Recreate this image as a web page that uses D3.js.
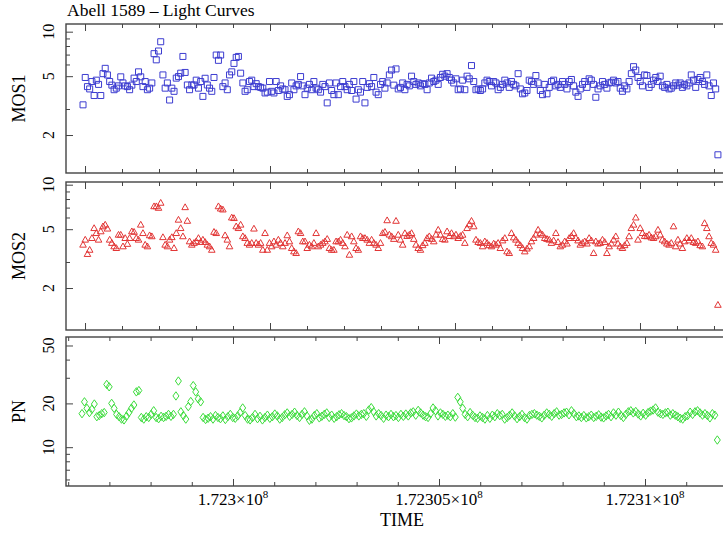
<!DOCTYPE html>
<html>
<head>
<meta charset="utf-8">
<script src="https://cdn.jsdelivr.net/npm/d3@7/dist/d3.min.js"></script>
<style>
  html, body { margin: 0; padding: 0; background: #fff; }
  svg { display: block; font-family: "Liberation Serif", "DejaVu Serif", serif; }
</style>
</head>
<body>
<div id="chart"></div>
<script>
// light curve values, one per 60 s bin
const mos1Counts = [
  3.2, 4.9, 4.25, 4.1, 4.6, 3.7, 4.7, 4.4, 3.7, 5.2,
  5.65, 5.1, 4.6, 4.35, 4.05, 4.15, 4.3, 4.95, 4.5, 4.3,
  4.25, 4.05, 4.35, 4.85, 4.6, 5.35, 4.95, 4.25, 4.6, 4.05,
  4.15, 4.5, 7.1, 6.45, 7.4, 8.55, 5.1, 4.15, 4.5, 3.45,
  4.15, 3.95, 4.85, 4.97, 5.24, 6.8, 5.3, 4.36, 4.05, 4.36,
  4.36, 4.7, 4.15, 4.6, 3.65, 4.84, 4.36, 4.15, 3.95, 4.9,
  6.95, 6.4, 6.95, 4.25, 4.5, 4.05, 5.1, 5.35, 6.1, 6.7,
  6.8, 5.24, 4.5, 3.95, 4.05, 4.6, 4.7, 4.25, 4.45, 4.25,
  4.2, 4.15, 3.85, 3.9, 4.6, 3.95, 3.85, 4.6, 4.0, 4.3,
  4.1, 4.05, 3.65, 3.75, 4.5, 4.05, 4.3, 4.4, 4.97, 4.3,
  3.75, 4.15, 4.4, 4.05, 4.6, 4.15, 4.05, 3.9, 4.4, 4.25,
  3.3, 4.5, 4.0, 3.75, 4.5, 3.75, 4.25, 4.6, 4.25, 4.05,
  4.4, 4.0, 4.6, 3.5, 4.05, 3.9, 4.6, 3.3, 4.2, 4.45,
  4.25, 4.9, 3.9, 3.75, 4.4, 4.6, 4.15, 4.5, 5.1, 5.5,
  4.35,
  5.6, 4.1, 4.2, 4.5, 4.05, 4.4, 4.3, 5.0, 4.6, 4.4,
  4.5, 4.3, 4.45, 4.4, 4.05, 4.5, 4.85, 4.6, 4.7, 4.4,
  4.9, 5.15, 5.0, 5.2, 4.9, 4.7, 4.5, 4.8, 4.05, 4.1,
  4.7, 4.05, 5.0, 4.8, 5.9, 4.6, 4.05, 4.1, 4.0, 4.1,
  4.5, 4.7, 4.6, 4.3, 4.6, 4.5, 4.05, 4.2, 4.4, 4.7,
  4.5, 4.2, 4.6, 4.4, 4.3, 5.2, 4.1, 3.8, 3.85, 4.0,
  4.7, 4.6, 4.4, 5.05, 4.5, 4.0, 3.75, 4.4, 3.8, 4.2,
  4.6, 4.7, 4.3, 4.4, 4.2, 4.6, 4.4, 4.1, 4.6, 4.75,
  4.3, 3.9, 3.65, 4.1, 4.4, 4.6, 4.2, 4.8, 4.7, 4.4,
  3.6, 4.1, 4.3, 4.6, 4.4, 4.15, 4.5, 4.55, 4.7, 4.5,
  4.6, 4.15, 3.95, 4.3, 4.1, 4.6, 5.2, 5.8, 5.5, 4.9,
  4.6, 4.3, 5.1, 5.05, 4.2, 4.4, 4.7, 4.9, 4.6, 5.0,
  4.3, 4.2, 4.4, 4.1, 4.15, 4.3, 4.5, 4.35, 4.5, 4.2,
  4.4, 4.3, 4.5, 5.1, 4.7, 4.2, 4.75, 4.9, 4.6, 4.4,
  5.1, 4.3, 3.7, 4.5, 4.1, 1.47
];

const mos2Counts = [
  3.93, 4.25, 3.4, 3.63, 4.36, 5.09, 4.71, 4.25, 4.84,
  5.23, 5.37, 5.05, 4.25, 4.04, 3.83, 3.73, 4.59, 4.59, 3.83,
  4.36, 3.98, 4.36, 4.84, 4.8, 4.36, 4.25, 5.37, 4.71, 3.93,
  3.83, 4.55, 4.48, 7.15, 7.15, 6.98, 7.55, 4.42, 3.93, 3.83,
  4.25, 4.42, 3.73, 4.71, 5.8, 5.09, 4.48, 7.05, 5.7,
  4.14, 3.93, 4.04, 4.14, 4.36, 4.1, 4.25, 4.1, 3.93, 3.83,
  3.63, 4.8, 4.71, 7.15, 6.9, 6.8, 4.55, 4.25, 3.83, 6.0,
  5.95, 5.23, 5.09, 5.37, 4.48, 4.36, 4.04, 3.93, 4.04, 5.05,
  4.04, 3.93, 4.04, 3.63, 4.71, 3.63, 4.04, 3.83, 4.14, 3.93,
  4.25, 4.04, 3.83, 4.04, 4.55, 4.14, 3.73, 3.54, 3.45, 4.84,
  4.71, 4.14, 4.14, 3.73, 3.93, 3.83, 4.04, 4.71, 3.83, 3.93,
  4.04, 4.14, 4.3, 3.73, 3.63, 3.63, 4.14, 4.14, 4.25, 4.04,
  3.83, 4.59, 3.36, 4.48, 4.14, 3.73, 3.63, 4.48, 4.36, 4.36,
  4.25, 4.04, 4.25, 4.04, 3.93, 3.73, 4.04, 4.71, 4.8, 5.75,
  4.6, 4.48, 4.3,
  5.7, 4.59, 4.25, 3.93, 4.7, 4.5, 4.59, 4.71, 4.3, 3.93,
  3.73, 3.63, 3.9, 4.04, 4.36, 4.48, 4.3, 4.14, 4.6, 4.96,
  4.59, 4.3, 4.25, 4.84, 4.5, 4.71, 4.48, 4.6, 4.36, 4.5,
  4.59, 4.04, 5.09, 5.4, 5.7, 5.23, 4.25, 4.1, 4.04, 3.83,
  4.14, 4.04, 3.9, 3.83, 4.0, 3.93, 4.04, 3.73, 4.2, 4.36,
  3.54, 3.45, 4.71, 4.4, 4.25, 4.04, 3.9, 3.73, 3.54, 3.7,
  3.83, 4.14, 4.36, 4.6, 4.96, 4.7, 4.59, 4.36, 4.3, 4.25,
  4.04, 4.2, 4.71, 4.1, 3.83, 3.93, 4.14, 4.0, 4.36, 4.5,
  4.71, 4.36, 4.2, 3.93, 4.04, 4.14, 4.0, 4.36, 4.2, 3.45,
  4.14, 4.0, 4.04, 4.25, 4.1, 3.45, 3.83, 4.0, 4.25, 4.48,
  4.0, 3.83, 3.73, 3.9, 4.04, 4.48, 5.09, 5.37, 6.0, 4.25,
  5.09, 4.71, 4.5, 4.48, 4.59, 4.4, 4.36, 4.48, 4.96, 4.6,
  4.25, 4.14, 4.0, 3.93, 4.04, 5.23, 3.83, 4.25, 4.0, 3.73,
  4.14, 4.36, 4.2, 4.36, 4.1, 4.04, 4.14, 3.9, 3.83, 5.5,
  5.09, 4.48, 4.04, 3.93, 3.63, 1.54
];

const pnCounts = [
  17.0, 20.5, 18.5, 17.3, 18.2, 19.8, 16.2, 16.5, 17.0, 17.3,
  27.0, 26.0, 20.0, 18.5, 16.8, 16.2, 15.6, 15.4, 16.3, 17.3,
  18.5, 19.5, 24.0, 24.5, 16.0, 15.6, 16.2, 16.0, 16.8, 17.8,
  16.0, 15.7, 16.3, 16.0, 16.3, 16.8, 16.3, 16.8, 22.5, 28.5,
  17.5, 16.5, 15.6, 19.0, 20.6, 26.5, 24.0, 21.5, 20.5, 16.0,
  15.5, 15.8, 16.2, 15.6, 16.5, 16.0, 15.7, 16.4, 15.5, 16.2,
  16.8, 16.0, 15.8, 16.4, 17.3, 18.6, 16.5, 15.6, 15.4, 16.0,
  16.8, 15.7, 16.3, 15.4, 16.0, 16.6, 15.8, 16.2, 16.9, 16.4,
  15.6, 16.0, 16.7, 17.2, 16.3, 16.8, 17.4, 16.5, 16.0, 16.8,
  17.5, 16.4, 15.3, 15.6, 16.5, 17.0, 15.9, 16.3, 16.8, 17.2,
  16.0, 16.6, 15.8, 16.2, 16.7, 17.0, 16.5, 16.2, 15.7, 15.9,
  16.4, 16.9, 16.4, 16.8, 17.0, 16.3, 18.0, 18.7, 17.5, 16.4,
  17.0, 16.5, 15.8, 16.6, 16.2, 16.8, 16.2,
  16.5, 16.0, 16.8, 16.3, 16.9, 16.4, 17.2, 17.5,
  16.6, 17.9, 17.2, 16.6, 16.2, 16.0, 17.0, 18.6, 17.8, 16.4,
  17.2, 16.8, 16.3, 16.6, 16.2, 17.0, 16.1, 22.0, 20.5, 18.5,
  16.8, 16.2, 17.3, 16.6, 16.0, 15.8, 16.4, 16.0, 15.6, 16.5,
  15.8, 16.6, 16.2, 17.0, 16.5, 16.8, 15.6, 16.0, 16.6, 17.2,
  16.4, 15.7, 16.2, 16.8, 16.0, 15.6, 16.5, 16.8, 17.0, 16.6,
  16.3, 15.9, 16.6, 17.2, 16.8, 16.3, 17.0, 17.5, 16.6, 16.8,
  17.2, 17.4, 16.7, 17.8, 17.0, 16.2, 16.4, 16.0, 16.5, 15.9,
  16.2, 16.6, 16.0, 16.3, 16.7, 16.1, 15.9, 16.4, 16.8, 16.2,
  17.2, 16.6, 17.4, 16.5, 16.0, 16.8, 17.5, 17.8, 17.2, 17.6,
  16.9, 16.4, 17.1, 16.6, 17.3, 17.7, 18.0, 18.6,
  17.4, 17.0, 16.8, 17.2, 17.4, 16.6, 17.0, 16.6, 16.2, 15.8,
  15.6, 16.2, 16.5, 17.4, 16.8, 17.5, 17.8, 17.2, 16.6, 17.0,
  16.5, 15.9, 17.0, 16.6, 11.2
];

// time grid of the binned light curves (s)
const binSize = 60;
const mosStartTime = 172294946;
const pnStartTime = 172296335;

// tick values and labels
const timeMajorTicks = [172295000, 172300000, 172305000, 172310000];
const timeTickLabels = [
  {t: 172300000, mant: "1.723"},
  {t: 172305000, mant: "1.72305"},
  {t: 172310000, mant: "1.7231"}
];
const mosMajorTicks = [2, 5, 10];
const mosMinorTicks = [3, 6, 7, 8, 9];
const pnMajorTicks = [10, 20, 50];
const pnMinorTicks = [6, 7, 8, 9, 30, 40];

(function() {
    const W = 723, H = 533;
    const left = 66, right = 735;
    const frameColor = "#444";

    const svg = d3.select("#chart").append("svg")
        .attr("width", W)
        .attr("height", H);

    const panels = [
        {label: "MOS1", values: mos1Counts, start: mosStartTime,
         xDomain: [172294486, 172312568], yDomain: [1.107, 11.27],
         top: 24, bottom: 173, major: mosMajorTicks, minor: mosMinorTicks,
         color: "#3c3cd0", shape: "square"},
        {label: "MOS2", values: mos2Counts, start: mosStartTime,
         xDomain: [172294486, 172312568], yDomain: [1.04, 10.43],
         top: 182, bottom: 330, major: mosMajorTicks, minor: mosMinorTicks,
         color: "#e23636", shape: "triangle"},
        {label: "PN", values: pnCounts, start: pnStartTime,
         xDomain: [172295947, 172312184], yDomain: [5.41, 57.2],
         top: 337, bottom: 486, major: pnMajorTicks, minor: pnMinorTicks,
         color: "#3cdc3c", shape: "diamond", timeLabels: true}
    ];

    const shapes = {
        square: "M-3,-3h6v6h-6z",
        triangle: "M0,-3.3L3.3,2.5L-3.3,2.5z",
        diamond: "M0,-4.2L3,0L0,4.2L-3,0z"
    };

    function styleAxis(sel) {
        sel.select(".domain").remove();
        sel.selectAll("line").attr("stroke", frameColor).attr("stroke-width", 1);
        sel.selectAll("text").remove();
    }

    panels.forEach(p => {
        const x = d3.scaleLinear().domain(p.xDomain).range([left, right]);
        const y = d3.scaleLog().domain(p.yDomain).range([p.bottom, p.top]);
        const g = svg.append("g");

        const minorX = d3.range(Math.ceil(p.xDomain[0] / 1000) * 1000, p.xDomain[1], 1000)
            .filter(t => t % 5000 !== 0);
        const majorX = timeMajorTicks.filter(t => t >= p.xDomain[0] && t <= p.xDomain[1]);

        // x ticks on bottom and top, pointing inward
        [[p.bottom, d3.axisBottom], [p.top, d3.axisTop]].forEach(([yy, axisFn]) => {
            g.append("g").attr("transform", `translate(0,${yy})`)
                .call(axisFn(x).tickValues(minorX).tickSize(-4).tickFormat(""))
                .call(styleAxis);
            g.append("g").attr("transform", `translate(0,${yy})`)
                .call(axisFn(x).tickValues(majorX).tickSize(-7).tickFormat(""))
                .call(styleAxis);
        });

        // y ticks on left and right
        [[left, d3.axisLeft], [right, d3.axisRight]].forEach(([xx, axisFn]) => {
            g.append("g").attr("transform", `translate(${xx},0)`)
                .call(axisFn(y).tickValues(p.minor).tickSize(-4).tickFormat(""))
                .call(styleAxis);
            g.append("g").attr("transform", `translate(${xx},0)`)
                .call(axisFn(y).tickValues(p.major).tickSize(-7).tickFormat(""))
                .call(styleAxis);
        });

        // frame
        g.append("rect")
            .attr("x", left).attr("y", p.top)
            .attr("width", right - left).attr("height", p.bottom - p.top)
            .attr("fill", "none")
            .attr("stroke", frameColor)
            .attr("stroke-width", 1.4);

        // y tick labels, rotated
        g.selectAll(".ylab")
            .data(p.major)
            .enter()
            .append("text")
            .attr("transform", d => `translate(54,${y(d)}) rotate(-90)`)
            .attr("text-anchor", "middle")
            .style("font-size", "16px")
            .text(d => d);

        // axis label
        g.append("text")
            .attr("transform", `translate(25,${(p.top + p.bottom) / 2}) rotate(-90)`)
            .attr("text-anchor", "middle")
            .style("font-size", "18px")
            .text(p.label);

        // data points
        g.append("g")
            .selectAll("path")
            .data(p.values)
            .enter()
            .append("path")
            .attr("transform", (d, i) => `translate(${x(p.start + i * binSize)},${y(d)})`)
            .attr("d", shapes[p.shape])
            .attr("fill", "none")
            .attr("stroke", p.color)
            .attr("stroke-width", 1);

        if (p.timeLabels) {
            const lab = g.selectAll(".xlab")
                .data(timeTickLabels)
                .enter()
                .append("text")
                .attr("x", d => x(d.t))
                .attr("y", 505)
                .attr("text-anchor", "middle")
                .style("font-size", "17px");
            lab.append("tspan").text(d => d.mant + "\u00d710");
            lab.append("tspan").attr("dy", -7).style("font-size", "11px").text("8");

            g.append("text")
                .attr("x", 402)
                .attr("y", 526)
                .attr("text-anchor", "middle")
                .style("font-size", "18px")
                .text("TIME");
        }
    });

    // title
    svg.append("text")
        .attr("x", 67)
        .attr("y", 16)
        .style("font-size", "17.5px")
        .text("Abell 1589 \u2013 Light Curves");
})();
</script>
</body>
</html>
